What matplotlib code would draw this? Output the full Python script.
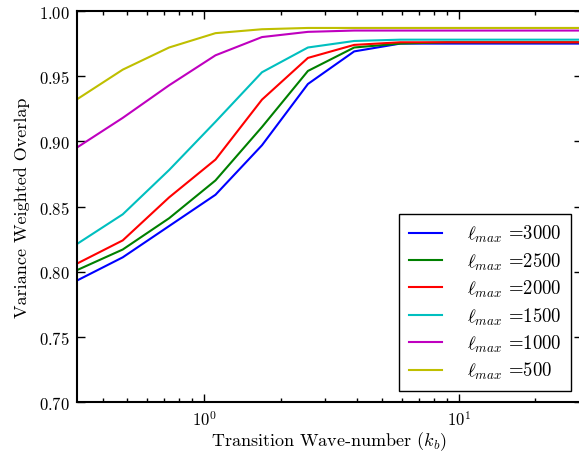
import numpy as np
import matplotlib
matplotlib.use("Agg")
import matplotlib.pyplot as plt

plt.rcParams["font.family"] = "serif"
plt.rcParams["font.serif"] = ["cmr10", "DejaVu Serif"]
plt.rcParams["mathtext.fontset"] = "cm"
plt.rcParams["axes.formatter.use_mathtext"] = True
plt.rcParams["font.size"] = 12

# transition wave-number k_b
kb = [0.316, 0.48, 0.73, 1.11, 1.69, 2.56, 3.89, 5.9, 9.0, 13.6, 20.7, 31.6]

lmax = [3000, 2500, 2000, 1500, 1000, 500]
farben = ["b", "g", "r", "c", "m", "y"]

ov_3000 = [0.793, 0.811, 0.835, 0.859, 0.897, 0.944, 0.969, 0.975, 0.975, 0.975, 0.975, 0.975]
ov_2500 = [0.801, 0.817, 0.841, 0.870, 0.911, 0.954, 0.972, 0.975, 0.976, 0.976, 0.976, 0.976]
ov_2000 = [0.806, 0.824, 0.857, 0.886, 0.932, 0.964, 0.974, 0.976, 0.976, 0.976, 0.976, 0.976]
ov_1500 = [0.821, 0.844, 0.878, 0.915, 0.953, 0.972, 0.977, 0.978, 0.978, 0.978, 0.978, 0.978]
ov_1000 = [0.895, 0.918, 0.943, 0.966, 0.980, 0.984, 0.985, 0.985, 0.985, 0.985, 0.985, 0.985]
ov_500 = [0.932, 0.955, 0.972, 0.983, 0.986, 0.987, 0.987, 0.987, 0.987, 0.987, 0.987, 0.987]

werte = [ov_3000, ov_2500, ov_2000, ov_1500, ov_1000, ov_500]

fig = plt.figure(figsize=(5.79, 4.52), dpi=100)
# right spine sits just outside the picture, as in the original
ax = fig.add_axes([76.5/579, 49/452, 505.5/579, 391/452])

for i in range(len(lmax)):
    ax.plot(kb, werte[i], color=farben[i], lw=1.5, label=r"$\ell_{max}$ =" + str(lmax[i]))

ax.set_xscale("log")
ax.set_xlim(0.316, 30.5)
ax.set_ylim(0.70, 1.00)
ax.set_yticks(np.arange(0.70, 1.001, 0.05))

for s in ax.spines.values():
    s.set_linewidth(1.5)
ax.tick_params(which="both", direction="in", top=True, right=True)
ax.tick_params(which="major", length=6, width=1.0, pad=5)
ax.tick_params(which="minor", length=3, width=1.0)

ax.set_xlabel(r"Transition Wave-number ($k_b$)", fontsize=13, labelpad=1)
ax.set_ylabel("Variance Weighted Overlap", fontsize=13, labelpad=6)

leg = ax.legend(loc="lower right", fontsize=13.5, handlelength=1.8, handletextpad=1.3,
                labelspacing=0.33, borderaxespad=0.6, borderpad=0.5,
                fancybox=False, framealpha=1)
leg.get_frame().set_edgecolor("k")
leg.get_frame().set_linewidth(1.0)

fig.savefig("out.png", dpi=100)
